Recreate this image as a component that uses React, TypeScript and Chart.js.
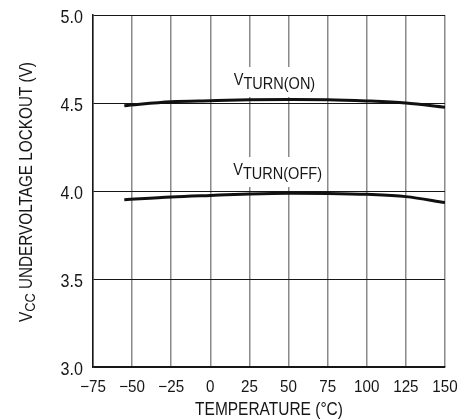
import React, { useEffect, useRef } from "react";
import { Chart, registerables } from "chart.js";

Chart.register(...registerables);

const temperatures = [-55, -25, 0, 25, 50, 75, 100, 125, 150];
const vTurnOn = [4.485, 4.507, 4.513, 4.518, 4.52, 4.519, 4.512, 4.5, 4.476];
const vTurnOff = [3.95, 3.966, 3.975, 3.983, 3.987, 3.986, 3.981, 3.968, 3.934];
const xTicks = [-75, -50, -25, 0, 25, 50, 75, 100, 125, 150];
const yTicks = [3.0, 3.5, 4.0, 4.5, 5.0];

const FONT = "'Liberation Sans', Arial, sans-serif";
const INK = "#161616";

type Seg = { t: string; size: number; dy: number };

function segWidth(ctx: CanvasRenderingContext2D, segs: Seg[]) {
  let w = 0;
  for (const s of segs) {
    ctx.font = `${s.size}px ${FONT}`;
    w += ctx.measureText(s.t).width;
  }
  return w;
}

function drawText(ctx: CanvasRenderingContext2D, segs: Seg[], x: number, y: number, sx: number, align: number) {
  const w = segWidth(ctx, segs) * sx;
  ctx.save();
  ctx.translate(x - w * align, y);
  ctx.scale(sx, 1);
  ctx.textAlign = "left";
  ctx.textBaseline = "alphabetic";
  let cx = 0;
  for (const s of segs) {
    ctx.font = `${s.size}px ${FONT}`;
    ctx.fillText(s.t, cx, s.dy);
    cx += ctx.measureText(s.t).width;
  }
  ctx.restore();
  return w;
}

const textPlugin = {
  id: "textPlugin",
  beforeDatasetsDraw(chart: any) {
    const ctx = chart.ctx as CanvasRenderingContext2D;
    const xs = chart.scales.x;
    const ys = chart.scales.y;
    const labels = [
      { t: 41, v: 4.5, base: -18, sub: "TURN(ON)" },
      { t: 43, v: 4.0, base: -16, sub: "TURN(OFF)" },
    ];
    ctx.save();
    for (const l of labels) {
      const segs: Seg[] = [
        { t: "V", size: 16.5, dy: 0 },
        { t: l.sub, size: 16.5, dy: 4 },
      ];
      const cx = xs.getPixelForValue(l.t);
      const base = ys.getPixelForValue(l.v) + l.base;
      const w = segWidth(ctx, segs) * 0.88;
      ctx.fillStyle = "#fff";
      ctx.fillRect(cx - w / 2 - 2, base - 18, w + 4, 30);
      ctx.fillStyle = INK;
      drawText(ctx, segs, cx, base, 0.88, 0.5);
    }
    ctx.restore();
  },
  afterDraw(chart: any) {
    const ctx = chart.ctx as CanvasRenderingContext2D;
    const area = chart.chartArea;
    const xs = chart.scales.x;
    const ys = chart.scales.y;
    ctx.save();
    ctx.fillStyle = INK;
    for (const v of xTicks) {
      const s = String(v).replace("-", "\u2212");
      drawText(ctx, [{ t: s, size: 16.5, dy: 0 }], xs.getPixelForValue(v), 392, 0.92, 0.5);
    }
    for (const v of yTicks) {
      drawText(ctx, [{ t: v.toFixed(1), size: 17.5, dy: 0 }], 83, ys.getPixelForValue(v) + 8, 0.92, 1);
    }
    drawText(ctx, [{ t: "TEMPERATURE (°C)", size: 18, dy: 0 }], (area.left + area.right) / 2, 415, 0.86, 0.5);
    ctx.translate(32, 192);
    ctx.rotate(-Math.PI / 2);
    drawText(
      ctx,
      [
        { t: "V", size: 18, dy: 0 },
        { t: "CC", size: 15, dy: 3 },
        { t: " UNDERVOLTAGE LOCKOUT (V)", size: 18, dy: 0 },
      ],
      0,
      0,
      0.85,
      0.5
    );
    ctx.restore();
  },
};

export default function App() {
  const ref = useRef<HTMLCanvasElement>(null);
  useEffect(() => {
    if (!ref.current) return;
    const chart = new Chart(ref.current, {
      type: "line",
      data: {
        labels: temperatures,
        datasets: [
          {
            data: temperatures.map((t, i) => ({ x: t, y: vTurnOn[i] })),
            borderColor: "#111",
            borderWidth: 3,
            pointRadius: 0,
            cubicInterpolationMode: "monotone",
            fill: false,
          },
          {
            data: temperatures.map((t, i) => ({ x: t, y: vTurnOff[i] })),
            borderColor: "#111",
            borderWidth: 3,
            pointRadius: 0,
            cubicInterpolationMode: "monotone",
            fill: false,
          },
        ],
      },
      options: {
        animation: false,
        responsive: false,
        maintainAspectRatio: false,
        layout: { padding: { top: 15, right: 15, left: 0, bottom: 0 } },
        plugins: { legend: { display: false }, tooltip: { enabled: false } },
        scales: {
          x: {
            type: "linear",
            min: -75,
            max: 150,
            afterBuildTicks: (s: any) => {
              s.ticks = xTicks.map((v) => ({ value: v }));
            },
            afterFit: (s: any) => {
              s.height = 52;
            },
            ticks: { display: false },
            grid: { color: "#8a8a8a", lineWidth: 1.5, drawTicks: false },
            border: { color: INK, width: 1.5 },
          },
          y: {
            type: "linear",
            min: 3,
            max: 5,
            afterBuildTicks: (s: any) => {
              s.ticks = yTicks.map((v) => ({ value: v }));
            },
            afterFit: (s: any) => {
              s.width = 93;
            },
            ticks: { display: false },
            grid: { color: INK, lineWidth: 1, drawTicks: false },
            border: { color: INK, width: 1.5 },
          },
        },
      },
      plugins: [textPlugin],
    } as any);
    return () => chart.destroy();
  }, []);
  return (
    <div style={{ position: "fixed", left: 0, top: 0, width: 460, height: 419, background: "#fff" }}>
      <canvas ref={ref} width={460} height={419} style={{ width: 460, height: 419 }} />
    </div>
  );
}
